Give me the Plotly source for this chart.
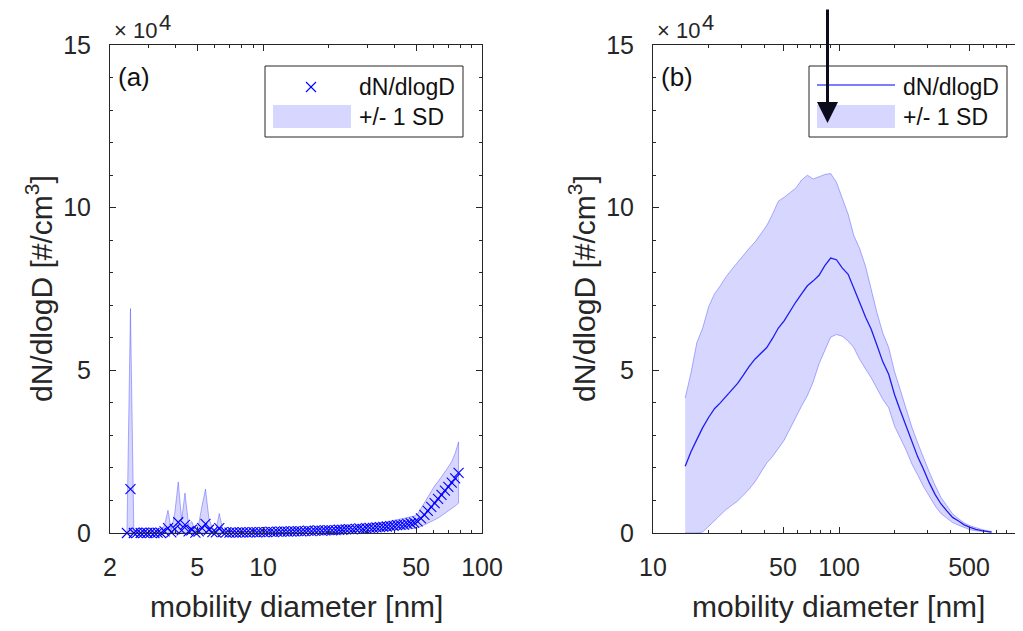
import plotly.graph_objects as go

# ---------------- data (values in units of 1e4 #/cm3) ----------------
d_a = [2.39, 2.48, 2.57, 2.66, 2.76, 2.86, 2.96, 3.07, 3.19, 3.30,
       3.42, 3.55, 3.68, 3.81, 3.95, 4.10, 4.25, 4.40, 4.57, 4.73,
       4.91, 5.09, 5.27, 5.46, 5.66, 5.87, 6.09, 6.31, 6.54, 6.78,
       7.03, 7.29, 7.55, 7.83, 8.11, 8.41, 8.72, 9.04, 9.37, 9.71,
       10.07, 10.44, 10.82, 11.21, 11.62, 12.05, 12.49, 12.95, 13.42, 13.91,
       14.42, 14.95, 15.50, 16.06, 16.65, 17.26, 17.89, 18.55, 19.23, 19.93,
       20.66, 21.42, 22.20, 23.01, 23.86, 24.73, 25.64, 26.57, 27.55, 28.56,
       29.60, 30.69, 31.81, 32.97, 34.18, 35.43, 36.73, 38.08, 39.47, 40.92,
       42.42, 43.97, 45.58, 47.25, 48.98, 50.77, 52.63, 54.56, 56.56, 58.63,
       60.78, 63.00, 65.31, 67.70, 70.18, 72.75, 75.41, 78.18]
mean_a = [0, 1.35, 0, 0.01, 0, 0.01, 0, 0.01, 0, 0.01,
          0, 0.05, 0.15, 0.02, 0.12, 0.33, 0.08, 0.25, 0.05, 0.10,
          0.01, 0.05, 0.15, 0.28, 0.10, 0.03, 0.02, 0.15, 0.03, 0.02,
          0.01, 0.02, 0.01, 0.02, 0.02, 0.02, 0.02, 0.03, 0.02, 0.03,
          0.03, 0.03, 0.04, 0.03, 0.04, 0.04, 0.05, 0.04, 0.05, 0.05,
          0.06, 0.05, 0.06, 0.07, 0.06, 0.07, 0.08, 0.07, 0.08, 0.09,
          0.08, 0.09, 0.10, 0.10, 0.11, 0.12, 0.11, 0.13, 0.14, 0.13,
          0.15, 0.16, 0.16, 0.17, 0.18, 0.19, 0.20, 0.21, 0.22, 0.24,
          0.25, 0.26, 0.28, 0.30, 0.32, 0.36, 0.45, 0.56, 0.68, 0.80,
          0.92, 1.05, 1.17, 1.30, 1.42, 1.55, 1.68, 1.85]
lo_a = [0, 0, 0, 0, 0, 0, 0, 0, 0, 0,
        0, 0, 0, 0, 0, 0, 0, 0, 0, 0,
        0, 0, 0, 0, 0, 0, 0, 0, 0, 0,
        0, 0, 0, 0, 0, 0, 0, 0, 0, 0,
        0, 0, 0, 0, 0, 0, 0, 0, 0, 0.01,
        0.01, 0.01, 0.01, 0.01, 0.01, 0.02, 0.02, 0.02, 0.02, 0.03,
        0.03, 0.03, 0.03, 0.04, 0.04, 0.04, 0.04, 0.05, 0.05, 0.05,
        0.06, 0.06, 0.06, 0.07, 0.07, 0.08, 0.08, 0.08, 0.09, 0.10,
        0.10, 0.11, 0.12, 0.13, 0.14, 0.16, 0.20, 0.25, 0.30, 0.35,
        0.40, 0.46, 0.53, 0.60, 0.68, 0.75, 0.83, 0.92]
hi_a = [0.02, 6.9, 0.02, 0.03, 0.02, 0.03, 0.02, 0.03, 0.02, 0.03,
        0.02, 0.25, 0.70, 0.10, 0.60, 1.57, 0.40, 1.23, 0.25, 0.35,
        0.05, 0.30, 0.85, 1.35, 0.45, 0.15, 0.08, 0.60, 0.12, 0.06,
        0.04, 0.05, 0.04, 0.05, 0.06, 0.05, 0.06, 0.06, 0.06, 0.07,
        0.07, 0.07, 0.08, 0.08, 0.08, 0.09, 0.09, 0.09, 0.10, 0.10,
        0.11, 0.11, 0.12, 0.12, 0.13, 0.13, 0.14, 0.14, 0.15, 0.16,
        0.16, 0.17, 0.18, 0.18, 0.19, 0.20, 0.21, 0.22, 0.23, 0.24,
        0.25, 0.27, 0.28, 0.29, 0.31, 0.32, 0.34, 0.36, 0.38, 0.40,
        0.42, 0.45, 0.48, 0.50, 0.52, 0.58, 0.75, 0.92, 1.10, 1.30,
        1.45, 1.58, 1.72, 1.88, 2.03, 2.20, 2.45, 2.80]

d_b = [14.9, 16.0, 17.2, 18.5, 19.9, 21.4, 23.0, 24.7, 26.5, 28.5,
       30.6, 32.9, 35.4, 38.0, 40.9, 43.9, 47.2, 50.7, 54.5, 58.6,
       62.9, 67.6, 72.7, 78.1, 83.9, 90.2, 96.9, 104, 112, 120,
       129, 139, 149, 160, 172, 185, 199, 213, 229, 247,
       265, 285, 306, 329, 353, 380, 408, 439, 471, 507,
       544, 585, 629, 660]
mean_b = [2.05, 2.50, 2.87, 3.24, 3.55, 3.82, 4.00, 4.19, 4.40, 4.60,
          4.85, 5.12, 5.35, 5.52, 5.70, 5.98, 6.30, 6.52, 6.82, 7.10,
          7.35, 7.60, 7.75, 7.92, 8.22, 8.45, 8.40, 8.15, 7.95, 7.55,
          7.09, 6.63, 6.26, 5.77, 5.26, 4.88, 4.25, 3.78, 3.28, 2.76,
          2.34, 1.95, 1.54, 1.18, 0.90, 0.68, 0.48, 0.37, 0.25, 0.17,
          0.11, 0.075, 0.045, 0.03]
hi_b = [4.15, 4.92, 5.85, 6.30, 6.95, 7.35, 7.60, 7.88, 8.10, 8.33,
        8.55, 8.75, 8.95, 9.20, 9.45, 9.80, 10.20, 10.32, 10.45, 10.60,
        10.85, 11.00, 10.88, 10.95, 11.02, 11.05, 10.78, 10.30, 9.80, 9.15,
        8.75, 8.19, 7.45, 6.77, 6.15, 5.70, 4.96, 4.40, 3.83, 3.24,
        2.77, 2.30, 1.87, 1.46, 1.10, 0.84, 0.59, 0.44, 0.31, 0.22,
        0.16, 0.11, 0.07, 0.05]
lo_b = [0, 0, 0, 0.03, 0.20, 0.38, 0.55, 0.72, 0.85, 0.98,
        1.15, 1.35, 1.58, 1.85, 2.15, 2.35, 2.60, 2.85, 3.20, 3.55,
        3.90, 4.22, 4.65, 5.20, 5.62, 6.02, 6.10, 6.05, 5.90, 5.70,
        5.34, 5.04, 4.77, 4.44, 4.11, 3.85, 3.28, 2.96, 2.56, 2.11,
        1.78, 1.42, 1.11, 0.83, 0.60, 0.46, 0.32, 0.24, 0.16, 0.10,
        0.07, 0.045, 0.03, 0.02]

ticks_a = [2, 5, 10, 50, 100]
minor_a = [3, 4, 6, 7, 8, 9, 20, 30, 40, 60, 70, 80, 90]
ticks_b = [10, 50, 100, 500]
minor_b = [20, 30, 40, 60, 70, 80, 90, 200, 300, 400, 600, 700, 800, 900]
ticks_y = [0, 5, 10, 15]
legend_labels = ["dN/dlogD", "+/- 1 SD"]

SCALE = 1e4
OFF = 8                     # default page body margin
W, H = 1023 - OFF, 631 - OFF
FONT = "Liberation Sans, Arial, Helvetica, sans-serif"
AX = "#262626"
BLUE = "rgb(0,0,255)"
FILL = "rgba(0,0,255,0.16)"
EDGE = "rgba(0,0,255,0.30)"


def sc(v):
    return [x * SCALE for x in v]


def px(x):
    # page pixel -> paper fraction
    return (x - OFF) / W


def py(y):
    return (H - (y - OFF)) / H


fig = go.Figure()

# ---- panel (a)
fig.add_trace(go.Scatter(
    x=d_a + d_a[::-1], y=sc(hi_a) + sc(lo_a)[::-1], fill="toself",
    fillcolor=FILL, line=dict(color=EDGE, width=1), mode="lines",
    name=legend_labels[1], showlegend=False, xaxis="x", yaxis="y",
    hoverinfo="skip"))
fig.add_trace(go.Scatter(
    x=d_a, y=sc(mean_a), mode="markers", name=legend_labels[0],
    marker=dict(symbol="x-thin", size=10, line=dict(color=BLUE, width=1.1), color=BLUE),
    cliponaxis=False, showlegend=False, xaxis="x", yaxis="y"))

# ---- panel (b)
fig.add_trace(go.Scatter(
    x=d_b + d_b[::-1], y=sc(hi_b) + sc(lo_b)[::-1], fill="toself",
    fillcolor=FILL, line=dict(color=EDGE, width=1), mode="lines",
    name=legend_labels[1], showlegend=False, xaxis="x2", yaxis="y2",
    hoverinfo="skip"))
fig.add_trace(go.Scatter(
    x=d_b, y=sc(mean_b), mode="lines", name=legend_labels[0],
    line=dict(color="rgb(30,30,240)", width=1.3),
    showlegend=False, xaxis="x2", yaxis="y2"))

ybot = py(533)
ytop = py(45)

common_axis = dict(
    showline=True, linecolor=AX, linewidth=1, mirror="allticks",
    ticks="inside", ticklen=6, tickwidth=1, tickcolor=AX,
    showgrid=False, zeroline=False, automargin=False,
    tickfont=dict(family=FONT, size=25, color=AX),
)


def xaxis(domain, rng, tv, mv):
    a = dict(common_axis)
    a.update(type="log", domain=domain, range=rng,
             tickmode="array", tickvals=tv, ticktext=[str(t) for t in tv],
             minor=dict(tickmode="array", tickvals=mv, ticks="inside",
                        ticklen=3, tickcolor=AX, tickwidth=1),
             ticklabelstandoff=12)
    return a


def yaxis(anchor):
    a = dict(common_axis)
    a.update(domain=[ybot, ytop], range=[0, 15 * SCALE], anchor=anchor,
             tickmode="array", tickvals=sc(ticks_y),
             ticktext=[str(t) for t in ticks_y],
             minor=dict(dtick=SCALE, ticks="inside", ticklen=3,
                        tickcolor=AX, tickwidth=1),
             ticklabelstandoff=13)
    return a


xa = xaxis([px(110), px(482)], [0.30103, 2.0], ticks_a, minor_a)
xa["anchor"] = "y"
xb = xaxis([px(653), 1.0], [1.0, 1.0 + 370 / 186], ticks_b, minor_b)
xb["anchor"] = "y2"

annotations = []
shapes = []
for xc in [39, 582]:
    annotations.append(dict(
        x=px(xc), y=py(289), xref="paper", yref="paper",
        text="dN/dlogD [#/cm<sup>3</sup>]", textangle=-90, showarrow=False,
        font=dict(family=FONT, size=30, color=AX),
        xanchor="center", yanchor="middle"))
for xc in [296, 838]:
    annotations.append(dict(
        x=px(xc), y=py(606), xref="paper", yref="paper",
        text="mobility diameter [nm]", showarrow=False,
        font=dict(family=FONT, size=30, color=AX),
        xanchor="center", yanchor="middle"))
# x10^4 multipliers
for xl in [112, 655]:
    annotations.append(dict(
        x=px(xl), y=py(31), xref="paper", yref="paper",
        text="× 10", showarrow=False,
        font=dict(family=FONT, size=22, color=AX),
        xanchor="left", yanchor="middle"))
    annotations.append(dict(
        x=px(xl + 45), y=py(22), xref="paper", yref="paper",
        text="4", showarrow=False,
        font=dict(family=FONT, size=22, color=AX),
        xanchor="left", yanchor="middle"))
for xl, lab in [(116, "(a)"), (659, "(b)")]:
    annotations.append(dict(
        x=px(xl), y=py(77), xref="paper", yref="paper",
        text=lab, showarrow=False,
        font=dict(family=FONT, size=26, color="#111111"),
        xanchor="left", yanchor="middle"))

# legends (drawn manually to match the reference box layout)
for bx, kind in [(265, "marker"), (809, "line")]:
    shapes.append(dict(type="rect", xref="paper", yref="paper",
                       x0=px(bx), x1=px(bx + 198), y0=py(66), y1=py(137),
                       fillcolor="white", line=dict(color=AX, width=1), layer="above"))
    sx0, sx1 = bx + 8, bx + 86
    if kind == "marker":
        cx, cy, r = bx + 46, 87, 5
        for (ax0, ay0, ax1, ay1) in [(cx - r, cy - r, cx + r, cy + r), (cx - r, cy + r, cx + r, cy - r)]:
            shapes.append(dict(type="line", xref="paper", yref="paper",
                               x0=px(ax0), y0=py(ay0), x1=px(ax1), y1=py(ay1),
                               line=dict(color=BLUE, width=1.1), layer="above"))
    else:
        shapes.append(dict(type="line", xref="paper", yref="paper",
                           x0=px(sx0), x1=px(sx1), y0=py(85), y1=py(85),
                           line=dict(color="rgb(80,80,255)", width=1.5), layer="above"))
    shapes.append(dict(type="rect", xref="paper", yref="paper",
                       x0=px(sx0), x1=px(sx1), y0=py(105), y1=py(128),
                       fillcolor="rgb(214,214,255)", line=dict(width=0), layer="above"))
    for lab, yc in zip(legend_labels, [87, 117]):
        annotations.append(dict(
            x=px(bx + 92), y=py(yc), xref="paper", yref="paper",
            text=lab, showarrow=False,
            font=dict(family=FONT, size=23, color="#111111"),
            xanchor="left", yanchor="middle"))

# arrow
annotations.append(dict(
    x=px(827.5), y=py(123), xref="paper", yref="paper",
    text="", showarrow=True, ax=0, ay=-130, arrowhead=2, arrowsize=1.4,
    arrowwidth=3, arrowcolor="#0b0b1c", standoff=0))

fig.update_layout(
    template="none",
    width=W, height=H, margin=dict(l=0, r=0, t=0, b=0, autoexpand=False),
    paper_bgcolor="white", plot_bgcolor="white",
    xaxis=xa, yaxis=yaxis("x"), xaxis2=xb, yaxis2=yaxis("x2"),
    annotations=annotations, shapes=shapes, showlegend=False,
    font=dict(family=FONT, color=AX),
)

fig.write_html("out.html")
